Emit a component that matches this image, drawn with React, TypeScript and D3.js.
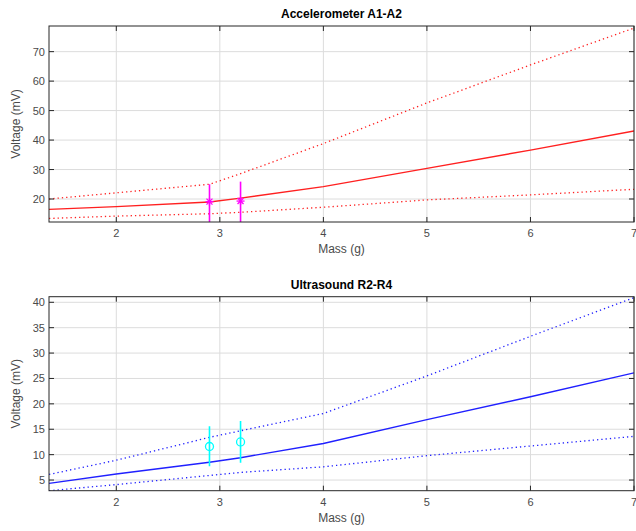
import React from "react";
import * as d3 from "d3";

const W = 636;
const H = 531;

const massX = [1.35, 2, 2.9, 3.2, 4, 5, 6, 7];
const accMean = [16.5, 17.4, 19.0, 20.3, 24.2, 30.4, 36.6, 43.1];
const accUpper = [20.0, 22.1, 25.0, 28.6, 38.8, 52.6, 65.5, 78.0];
const accLower = [13.4, 14.2, 15.0, 15.5, 17.2, 19.7, 21.4, 23.3];
const usMean = [4.35, 6.2, 8.5, 9.4, 12.2, 16.9, 21.4, 26.1];
const usUpper = [6.1, 8.9, 13.4, 14.7, 18.1, 25.5, 33.3, 40.9];
const usLower = [2.9, 4.1, 5.9, 6.5, 7.6, 9.8, 11.7, 13.6];

const obsX = [2.9, 3.2];
const accObs = [19.1, 19.3];
const accObsLo = [12.0, 12.0];
const accObsHi = [25.0, 25.9];
const usObs = [11.6, 12.5];
const usObsLo = [7.7, 8.4];
const usObsHi = [15.6, 16.6];

const xTicks = [2, 3, 4, 5, 6, 7];
const accTicks = [20, 30, 40, 50, 60, 70];
const usTicks = [5, 10, 15, 20, 25, 30, 35, 40];

const FONT = "'Liberation Sans', Arial, Helvetica, sans-serif";

type PanelProps = {
  id: string;
  top: number;
  bottom: number;
  yDomain: [number, number];
  yTicks: number[];
  title: string;
  mean: number[];
  upper: number[];
  lower: number[];
  color: string;
  obs: number[];
  obsLo: number[];
  obsHi: number[];
  obsColor: string;
  marker: "star" | "circle";
};

function Panel(p: PanelProps) {
  const left = 49;
  const right = 634;
  const x = d3.scaleLinear().domain([1.35, 7]).range([left, right]);
  const y = d3.scaleLinear().domain(p.yDomain).range([p.bottom, p.top]);
  const line = d3
    .line<number>()
    .x((_, i) => x(massX[i]))
    .y((d) => y(d));
  const tl = 5;
  const axisColor = "#262626";
  const labelColor = "#4a4a4a";
  const midX = (left + right) / 2;
  const midY = (p.top + p.bottom) / 2;
  return (
    <g>
      <defs>
        <clipPath id={p.id}>
          <rect x={left} y={p.top} width={right - left} height={p.bottom - p.top} />
        </clipPath>
      </defs>
      <rect x={left} y={p.top} width={right - left} height={p.bottom - p.top} fill="#fff" />
      {xTicks.map((t) => (
        <line key={"gx" + t} x1={x(t)} x2={x(t)} y1={p.top} y2={p.bottom} stroke="#dcdcdc" strokeWidth={1} />
      ))}
      {p.yTicks.map((t) => (
        <line key={"gy" + t} x1={left} x2={right} y1={y(t)} y2={y(t)} stroke="#dcdcdc" strokeWidth={1} />
      ))}
      <g clipPath={`url(#${p.id})`}>
        <path d={line(p.upper) || ""} fill="none" stroke={p.color} strokeWidth={1.3} strokeDasharray="1.3 3" />
        <path d={line(p.lower) || ""} fill="none" stroke={p.color} strokeWidth={1.3} strokeDasharray="1.3 3" />
        <path d={line(p.mean) || ""} fill="none" stroke={p.color} strokeWidth={1.4} />
        {obsX.map((ox, i) => {
          const cx = x(ox);
          const cy = y(p.obs[i]);
          return (
            <g key={"o" + i}>
              <line x1={cx} x2={cx} y1={y(p.obsLo[i])} y2={y(p.obsHi[i])} stroke={p.obsColor} strokeWidth={1.6} />
              {p.marker === "circle" ? (
                <circle cx={cx} cy={cy} r={4} fill="none" stroke={p.obsColor} strokeWidth={1.3} />
              ) : (
                <g stroke={p.obsColor} strokeWidth={1.3}>
                  <line x1={cx - 4} x2={cx + 4} y1={cy} y2={cy} />
                  <line x1={cx} x2={cx} y1={cy - 4} y2={cy + 4} />
                  <line x1={cx - 3} x2={cx + 3} y1={cy - 3} y2={cy + 3} />
                  <line x1={cx - 3} x2={cx + 3} y1={cy + 3} y2={cy - 3} />
                </g>
              )}
            </g>
          );
        })}
      </g>
      {xTicks.map((t) => (
        <g key={"tx" + t}>
          <line x1={x(t)} x2={x(t)} y1={p.bottom} y2={p.bottom - tl} stroke={axisColor} />
          <line x1={x(t)} x2={x(t)} y1={p.top} y2={p.top + tl} stroke={axisColor} />
          <text x={x(t)} y={p.bottom + 15} textAnchor="middle" fontSize={11} fill={labelColor} fontFamily={FONT}>
            {t}
          </text>
        </g>
      ))}
      {p.yTicks.map((t) => (
        <g key={"ty" + t}>
          <line x1={left} x2={left + tl} y1={y(t)} y2={y(t)} stroke={axisColor} />
          <line x1={right} x2={right - tl} y1={y(t)} y2={y(t)} stroke={axisColor} />
          <text x={left - 4} y={y(t) + 4} textAnchor="end" fontSize={11} fill={labelColor} fontFamily={FONT}>
            {t}
          </text>
        </g>
      ))}
      <rect x={left} y={p.top} width={right - left} height={p.bottom - p.top} fill="none" stroke={axisColor} strokeWidth={1} />
      <text x={midX} y={p.top - 8} textAnchor="middle" fontSize={12} fontWeight="bold" fill="#000" fontFamily={FONT}>
        {p.title}
      </text>
      <text x={midX} y={p.bottom + 31} textAnchor="middle" fontSize={12} fill={labelColor} fontFamily={FONT}>
        Mass (g)
      </text>
      <text
        transform={`translate(${20},${midY}) rotate(-90)`}
        textAnchor="middle"
        fontSize={12}
        fill={labelColor}
        fontFamily={FONT}
      >
        Voltage (mV)
      </text>
    </g>
  );
}

export default function App() {
  return (
    <svg width={W} height={H} style={{ position: "absolute", left: 0, top: 0, background: "#fff" }}>
      <rect width={W} height={H} fill="#fff" />
      <Panel
        id="c1"
        top={26}
        bottom={222}
        yDomain={[12.2, 78.7]}
        yTicks={accTicks}
        title="Accelerometer A1-A2"
        mean={accMean}
        upper={accUpper}
        lower={accLower}
        color="#ff2020"
        obs={accObs}
        obsLo={accObsLo}
        obsHi={accObsHi}
        obsColor="#ff00ff"
        marker="star"
      />
      <Panel
        id="c2"
        top={296.7}
        bottom={490.7}
        yDomain={[2.9, 41.1]}
        yTicks={usTicks}
        title="Ultrasound R2-R4"
        mean={usMean}
        upper={usUpper}
        lower={usLower}
        color="#2020ff"
        obs={usObs}
        obsLo={usObsLo}
        obsHi={usObsHi}
        obsColor="#00ffff"
        marker="circle"
      />
    </svg>
  );
}
